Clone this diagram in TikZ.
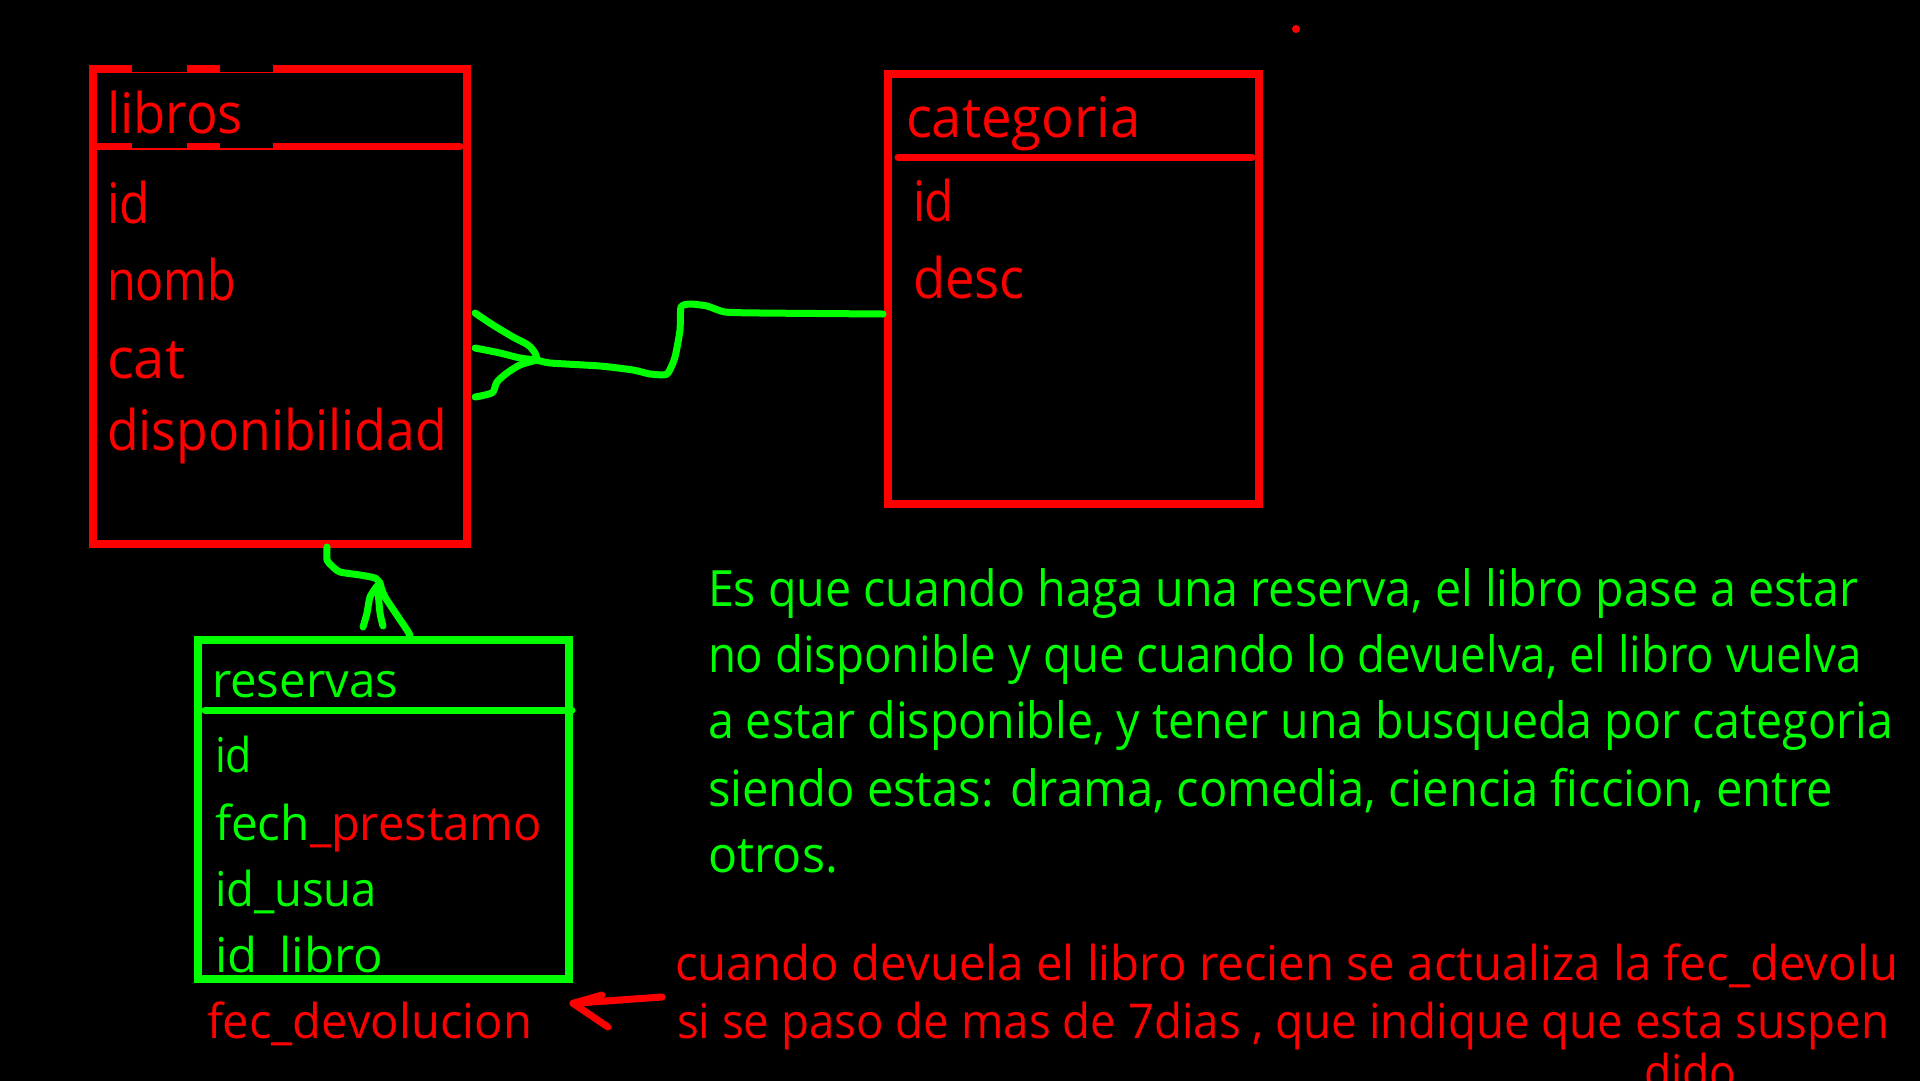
\documentclass[tikz,border=0pt]{standalone}
\usepackage{fontspec}
\setmainfont{Open Sans}
\usetikzlibrary{calc}
\definecolor{pred}{RGB}{255,0,0}
\definecolor{pgreen}{RGB}{0,255,0}
\newcommand{\fitw}[2]{\resizebox{#1pt}{\height}{#2}}
\begin{document}
\begin{tikzpicture}[x=1pt,y=-1pt,
  tbl/.style={draw,line width=8pt,inner sep=0pt,outer sep=0pt},
  hdr/.style={line width=7pt,line cap=round},
  conn/.style={draw=pgreen,line width=7pt,line cap=round,line join=round},
  txt/.style={anchor=base west,inner sep=0pt,outer sep=0pt},
  bigred/.style={txt,text=pred,font=\fontsize{56pt}{60pt}\selectfont},
  resg/.style={txt,text=pgreen,font=\fontsize{48pt}{52pt}\selectfont},
  resr/.style={txt,text=pred,font=\fontsize{48pt}{52pt}\selectfont},
  note/.style={txt,text=pgreen,font=\fontsize{50pt}{54pt}\selectfont},
  rnote/.style={txt,text=pred,font=\fontsize{48pt}{52pt}\selectfont}]
\useasboundingbox (0,0) rectangle (1920,1080);
\fill[black] (-20,-20) rectangle (1940,1100);

% tables
\node[tbl,draw=pred,minimum width=374pt,minimum height=475pt] (libros) at (280,306.5) {};
\node[tbl,draw=pred,minimum width=371pt,minimum height=430pt] (categoria) at (1073.5,289) {};
\node[tbl,draw=pgreen,minimum width=371pt,minimum height=339pt] (reservas) at (383.5,809.5) {};

% header lines
\draw[hdr,pred] (98,146.7) -- (460,146.7);
\fill[black] (132,64) rectangle (187,71.7);
\fill[black] (220,64) rectangle (273,71.7);
\fill[black] (132,142) rectangle (187,148.3);
\fill[black] (220,142) rectangle (273,148.3);
\draw[hdr,pred] (898,157) -- (1252,157);
\draw[hdr,pgreen] (205,710) -- (572,710);

% libros texts
\node[bigred] (lt) at (107,133) {\fitw{136}{libros}};
\node[bigred] (l1) at (107,223) {\fitw{43}{id}};
\node[bigred] (l2) at (107,300) {\fitw{129}{nomb}};
\node[bigred] (l3) at (107,378) {\fitw{78}{cat}};
\node[bigred] (l4) at (107,450) {\fitw{340}{disponibilidad}};

% categoria texts
\node[bigred] (ct) at (906,137) {\fitw{235}{categoria}};
\node[bigred] (c1) at (913,221) {\fitw{41}{id}};
\node[bigred] (c2) at (913,298) {\fitw{112}{desc}};

% reservas texts
\node[resg] (rt) at (212,697) {\fitw{186}{reservas}};
\node[resg] (r1) at (215,772) {\fitw{37}{id}};
\node[resg] (r2a) at (215,840) {\fitw{95}{fech}};
\node[resr] (r2b) at (r2a.base east) {\fitw{232}{\_prestamo}};
\node[resg] (r3) at (215,906) {\fitw{162}{id\_usua}};
\node[resg] (r4) at (215,972) {\fitw{168}{id\_libro}};
\node[resr] (fd) at (207,1038) {\fitw{325}{fec\_devolucion}};

% green note
\node[note] (n1) at (708,606) {\fitw{1150}{Es que cuando haga una reserva, el libro pase a estar}};
\node[note] (n2) at (708,672) {\fitw{1154}{no disponible y que cuando lo devuelva, el libro vuelva}};
\node[note] (n3) at (708,738) {\fitw{1185}{a estar disponible, y tener una busqueda por categoria}};
\node[note] (n4) at (708,806) {\fitw{1125}{siendo estas: drama, comedia, ciencia ficcion, entre}};
\node[note] (n5) at (708,872) {\fitw{130}{otros.}};

% red note
\node[rnote] (m1) at (675,980) {\fitw{1223}{cuando devuela el libro recien se actualiza la fec\_devolu}};
\node[rnote] (m2) at (677,1038) {\fitw{1212}{si se paso de mas de 7dias , que indique que esta suspen}};
\node[rnote] (m3) at (1644,1089) {\fitw{92}{dido}};

% connector libros - categoria (crow's foot)
\coordinate (p1) at ($(libros.east)+(8,6.5)$);
\coordinate (p2) at ($(libros.east)+(8,41.5)$);
\coordinate (p3) at ($(libros.east)+(8,90.5)$);
\coordinate (pj) at (537,360);
\coordinate (pe) at ($(categoria.west)+(-5,25)$);
\draw[conn] plot[smooth,tension=0.5] coordinates {(p1) (493,325) (513,337) (528,345) (535,353) (pj)};
\draw[conn] plot[smooth,tension=0.5] coordinates {(p2) (500,353) (520,358) (pj)};
\draw[conn] plot[smooth,tension=0.5] coordinates {(p3) (485,395) (493,392) (497,382) (507,373) (520,365) (pj)};
\draw[conn] plot[smooth,tension=0.35] coordinates {(pj) (550,363) (600,366) (633,370) (650,374) (667,374) (675,357) (680,330) (681,307) (690,304) (707,306) (725,312) (760,313) (pe)};

% connector libros - reservas (crow's foot)
\coordinate (q0) at ($(libros.south)+(47,3)$);
\coordinate (qa) at (380,583);
\coordinate (qr) at ($(reservas.north)+(26.5,-4)$);
\draw[conn] plot[smooth,tension=0.4] coordinates {(q0) (327,560) (332,566) (340,572) (360,575) (375,578) (qa)};
\draw[conn] plot[smooth,tension=0.4] coordinates {(qa) (385,597) (407,630) (qr)};
\draw[conn] plot[smooth,tension=0.4] coordinates {(377,586) (370,597) (367,613) (363,627)};
\draw[conn] plot[smooth,tension=0.4] coordinates {(378,590) (380,613) (383,626)};

% red arrow to fec_devolucion
\coordinate (at) at ($(fd.east)+(41,-20)$);
\coordinate (as) at (662,997);
\draw[draw=pred,line width=7pt,line cap=round,line join=round] (as) -- (at);
\draw[draw=pred,line width=7pt,line cap=round,line join=round] (602,995) -- (at) -- (608,1027);

% stray dot
\fill[pred] (1296,29) circle (4);
\end{tikzpicture}
\end{document}
